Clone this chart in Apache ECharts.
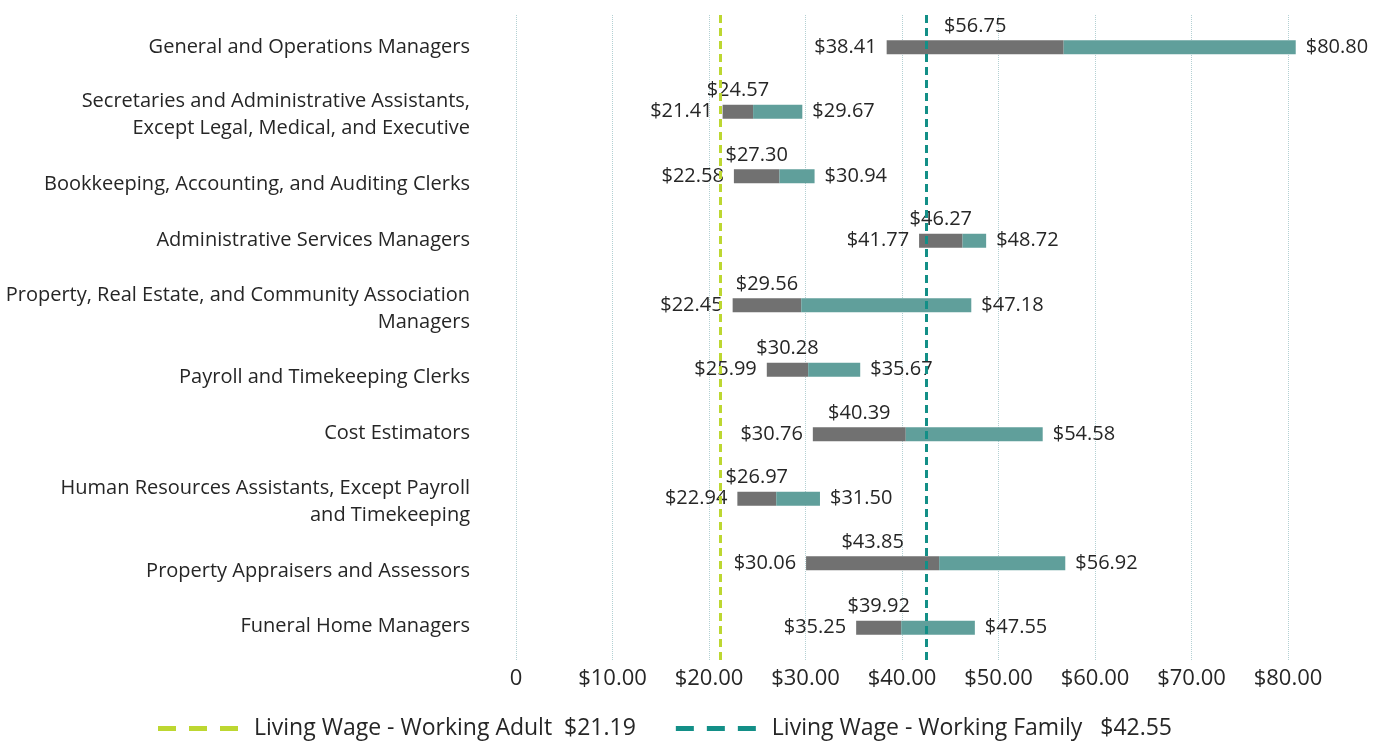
<!DOCTYPE html>
<html>
<head>
<meta charset="utf-8">
<script src="https://cdn.jsdelivr.net/npm/echarts@6/dist/echarts.min.js"></script>
<style>html,body{margin:0;padding:0;background:#fff}#c{width:1385px;height:742px}</style>
</head>
<body>
<div id="c"></div>
<script>
const categories = [
  "General and Operations Managers",
  "Secretaries and Administrative Assistants,\nExcept Legal, Medical, and Executive",
  "Bookkeeping, Accounting, and Auditing Clerks",
  "Administrative Services Managers",
  "Property, Real Estate, and Community Association\nManagers",
  "Payroll and Timekeeping Clerks",
  "Cost Estimators",
  "Human Resources Assistants, Except Payroll\nand Timekeeping",
  "Property Appraisers and Assessors",
  "Funeral Home Managers"
];
const lowWage    = [38.41, 21.41, 22.58, 41.77, 22.45, 25.99, 30.76, 22.94, 30.06, 35.25];
const medianWage = [56.75, 24.57, 27.30, 46.27, 29.56, 30.28, 40.39, 26.97, 43.85, 39.92];
const highWage   = [80.80, 29.67, 30.94, 48.72, 47.18, 35.67, 54.58, 31.50, 56.92, 47.55];
const xTicks = [0, 10, 20, 30, 40, 50, 60, 70, 80];
const livingWageAdult = 21.19;
const livingWageFamily = 42.55;
const legendNames = ["Living Wage - Working Adult  $21.19", "Living Wage - Working Family   $42.55"];

// style: small vertical nudges of the category labels (px, + = down), as in the original layout
const labelNudge = [0, 3.5, 8, 0, 4, 8, -1, 3, 8, -1];

const FONT = "'Open Sans', 'Noto Sans', sans-serif";
const TXT = '#262626';
const fmt = v => '$' + v.toFixed(2);
const DASH_ICON = 'path://M0,0h18v5h-18z M31,0h18v5h-18z M62,0h18v5h-18z';

const LBL = {fontSize: 20, color: TXT, fontFamily: FONT, lineHeight: 27};
const rich = {};
labelNudge.forEach((d, i) => {
  rich['r' + i] = Object.assign({}, LBL, {
    padding: d >= 0 ? [2 * d, 0, 0, 0] : [0, 0, -2 * d, 0]
  });
});

const chart = echarts.init(document.getElementById('c'), null, {renderer: 'canvas'});
chart.setOption({
  animation: false,
  textStyle: {fontFamily: FONT},
  grid: {left: 516, right: 97, top: 15, bottom: 82, containLabel: false},
  xAxis: {
    type: 'value', min: xTicks[0], max: xTicks[xTicks.length - 1], interval: 10,
    axisLine: {show: false}, axisTick: {show: false},
    splitLine: {show: true, lineStyle: {color: '#b3d0d3', type: 'dotted', width: 1}},
    axisLabel: {fontSize: 22, color: TXT, fontFamily: FONT, margin: 8,
      formatter: v => v === 0 ? '0' : fmt(v)}
  },
  yAxis: {
    type: 'category', inverse: true, data: categories,
    axisLine: {show: false}, axisTick: {show: false}, splitLine: {show: false},
    axisLabel: Object.assign({}, LBL, {margin: 46, align: 'right', rich: rich,
      formatter: (value, idx) => value.split('\n').map(ln => '{r' + idx + '|' + ln + '}').join('\n')
    })
  },
  legend: {
    left: 153, top: 712, itemWidth: 82, itemHeight: 5, itemGap: 40,
    data: [{name: legendNames[0], icon: DASH_ICON}, {name: legendNames[1], icon: DASH_ICON}],
    textStyle: {fontSize: 23, color: TXT, fontFamily: FONT, padding: [0, 0, 0, 10]},
    selectedMode: false
  },
  series: [
    {
      name: 'base', type: 'bar', stack: 'w', barWidth: 14, clip: false,
      data: lowWage,
      itemStyle: {color: 'rgba(0,0,0,0)'},
      label: {show: true, position: 'insideRight', distance: 10, fontSize: 20, color: TXT,
        fontFamily: FONT, formatter: p => fmt(lowWage[p.dataIndex])},
      silent: true
    },
    {
      name: 'median', type: 'bar', stack: 'w', barWidth: 14, clip: false,
      data: medianWage.map((m, i) => +(m - lowWage[i]).toFixed(2)),
      itemStyle: {color: '#717171'},
      label: {show: true, position: 'top', distance: 4, fontSize: 20, color: TXT,
        fontFamily: FONT, formatter: p => fmt(medianWage[p.dataIndex])}
    },
    {
      name: 'high', type: 'bar', stack: 'w', barWidth: 14, clip: false,
      data: highWage.map((h, i) => +(h - medianWage[i]).toFixed(2)),
      itemStyle: {color: '#609f9b'},
      label: {show: true, position: 'right', distance: 10, fontSize: 20, color: TXT,
        fontFamily: FONT, formatter: p => fmt(highWage[p.dataIndex])}
    },
    {
      name: legendNames[0], type: 'line', data: [], symbol: 'none', z: 10,
      itemStyle: {color: '#bdd731'},
      lineStyle: {color: '#bdd731', width: 5},
      markLine: {
        silent: true, symbol: ['none', 'none'], label: {show: false},
        lineStyle: {color: '#bdd731', width: 3, type: [8, 5]},
        data: [{xAxis: livingWageAdult}]
      }
    },
    {
      name: legendNames[1], type: 'line', data: [], symbol: 'none', z: 10,
      itemStyle: {color: '#138f87'},
      lineStyle: {color: '#138f87', width: 5},
      markLine: {
        silent: true, symbol: ['none', 'none'], label: {show: false},
        lineStyle: {color: '#138f87', width: 3, type: [8, 5]},
        data: [{xAxis: livingWageFamily}]
      }
    }
  ]
});
</script>
</body>
</html>
